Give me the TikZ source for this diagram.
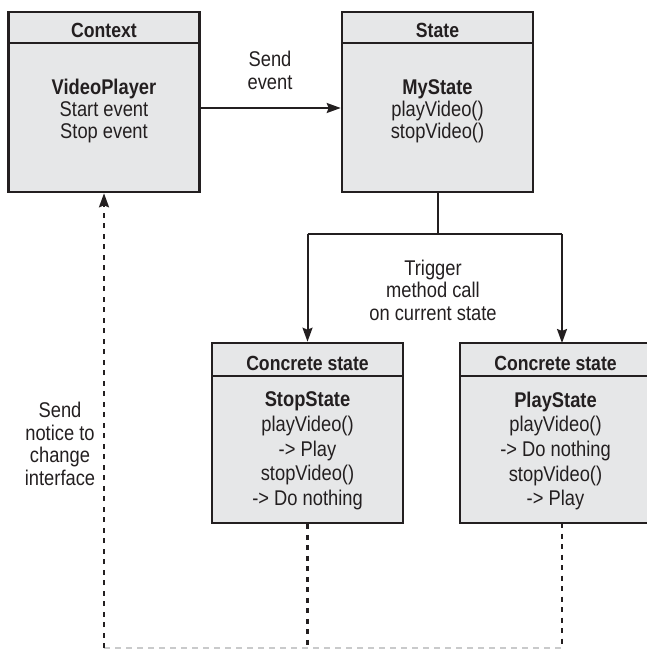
\documentclass[tikz,border=0pt]{standalone}
\usepackage{fontspec}
\setmainfont{Liberation Sans}[FakeStretch=0.86]
\usetikzlibrary{arrows.meta}
\definecolor{ink}{HTML}{231F20}
\definecolor{boxfill}{HTML}{E6E7E8}
\definecolor{faint}{HTML}{C9CACB}
\tikzset{
  classbox/.style={draw=ink, fill=boxfill, line width=2.6pt, minimum width=191pt,
    minimum height=180pt, inner sep=0pt},
  headrule/.style={draw=ink, line width=2.4pt},
  headtext/.style={text=ink, font=\fontsize{20.5}{22}\selectfont\bfseries, anchor=base, inner sep=0pt},
  bodytext/.style={text=ink, align=center, inner sep=0pt, font=\fontsize{21.3}{22}\selectfont},
  concretetext/.style={text=ink, align=center, inner sep=0pt, font=\fontsize{21.3}{24.7}\selectfont},
  note/.style={text=ink, align=center, inner sep=0pt, font=\fontsize{21.3}{22.5}\selectfont},
  link/.style={draw=ink, line width=2pt, -{Stealth[length=14pt,width=10pt,inset=2pt]}},
  plainlink/.style={draw=ink, line width=2pt},
  notify/.style={draw=ink, line width=2.2pt, dash pattern=on 5pt off 5.5pt},
  notifyfaint/.style={draw=faint, line width=1.6pt, dash pattern=on 6pt off 5pt},
}
\begin{document}
\begin{tikzpicture}[x=1pt, y=-1pt]
  \useasboundingbox (0,0) rectangle (647,650);

  % Context
  \node[classbox] (ctx) at (104,102) {};
  \draw[headrule] (8,43) -- (200,43);
  \node[headtext] (ctxhead) at (104,37.5) {Context};
  \node[bodytext] (ctxbody) at (104,111) {\textbf{VideoPlayer}\\Start event\\Stop event};

  % State
  \node[classbox] (state) at (437.5,102) {};
  \draw[headrule] (342,43) -- (533,43);
  \node[headtext] (statehead) at (437.5,37.5) {State};
  \node[bodytext] (statebody) at (437.5,111) {\textbf{MyState}\\playVideo()\\stopVideo()};

  % Concrete states
  \node[classbox] (stop) at (307.5,433) {};
  \draw[headrule] (212,376) -- (403,376);
  \node[headtext] (stophead) at (307.5,370) {Concrete state};
  \node[concretetext] (stopbody) at (307.5,451)
    {\textbf{StopState}\\playVideo()\\-> Play\\stopVideo()\\-> Do nothing};

  \node[classbox] (play) at (555.5,433) {};
  \draw[headrule] (460,376) -- (651,376);
  \node[headtext] (playhead) at (555.5,370) {Concrete state};
  \node[concretetext] (playbody) at (555.5,451)
    {\textbf{PlayState}\\playVideo()\\-> Do nothing\\stopVideo()\\-> Play};

  % Send event
  \draw[link] (ctx.east |- 0,108) -- (state.west |- 0,108);
  \node[note] (sendlbl) at (270,70.5) {Send\\event};

  % Trigger method call
  \coordinate (fork) at (437.5,234);
  \coordinate (forkl) at (stop.north |- fork);
  \coordinate (forkr) at (562,234);
  \coordinate (playin) at (562,343);
  \draw[plainlink] (state.south) -- (fork);
  \draw[plainlink] (forkl) -- (forkr);
  \draw[link] (forkl) -- (stop.north);
  \draw[link] (forkr) -- (playin);
  \node[note] (triglbl) at (433,290) {Trigger\\method call\\on current state};

  % Notice back to the context
  \coordinate (retl) at (104,648);
  \coordinate (retm) at (stop.south |- retl);
  \coordinate (retr) at (562,648);
  \coordinate (playout) at (562,523);
  \draw[notifyfaint] (retl) -- (retr);
  \draw[notify] (stop.south) -- (retm);
  \draw[notify] (playout) -- (retr);
  \draw[notify, -{Stealth[length=14pt,width=10pt,inset=2pt]}] (retl) -- (ctx.south);
  \node[note] (noticelbl) at (60,444) {Send\\notice to\\change\\interface};
\end{tikzpicture}
\end{document}
